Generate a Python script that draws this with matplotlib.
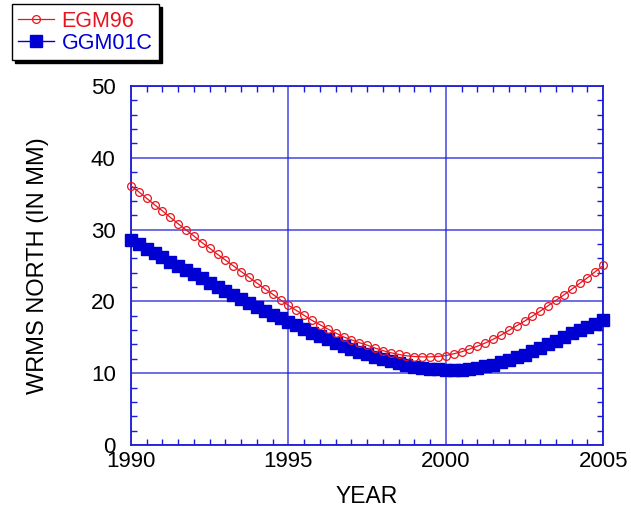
import numpy as np
import matplotlib
matplotlib.use("Agg")
import matplotlib.pyplot as plt
from matplotlib.ticker import MultipleLocator

plt.rcParams['font.family'] = ['Liberation Sans', 'DejaVu Sans']

# quarterly samples, 1990 -> 2005
years = np.arange(1990.0, 2005.01, 0.25)

egm96 = [36.1, 35.25, 34.35, 33.45, 32.6, 31.7, 30.8, 29.95,
         29.1, 28.2, 27.4, 26.55, 25.75, 24.95, 24.15, 23.35,
         22.55, 21.75, 21.0, 20.2, 19.45, 18.75, 18.05, 17.35,
         16.75, 16.15, 15.6, 15.05, 14.65, 14.25, 13.9, 13.5,
         13.15, 12.85, 12.62, 12.42, 12.32, 12.27, 12.27, 12.32,
         12.45, 12.7, 12.98, 13.35, 13.75, 14.2, 14.72, 15.3,
         15.95, 16.6, 17.25, 17.95, 18.65, 19.4, 20.15, 20.9,
         21.7, 22.5, 23.3, 24.15, 25.0]

ggm01c = [28.55, 27.95, 27.35, 26.75, 26.15, 25.55, 24.95, 24.35,
          23.8, 23.2, 22.6, 22.05, 21.5, 20.9, 20.35, 19.8,
          19.25, 18.7, 18.15, 17.65, 17.15, 16.65, 16.15, 15.65,
          15.15, 14.7, 14.25, 13.8, 13.4, 13.0, 12.65, 12.3,
          11.95, 11.65, 11.38, 11.12, 10.92, 10.75, 10.62, 10.52,
          10.47, 10.45, 10.48, 10.58, 10.75, 10.95, 11.2, 11.5,
          11.85, 12.2, 12.6, 13.05, 13.5, 14.0, 14.5, 15.0,
          15.55, 16.0, 16.45, 16.9, 17.35]

x_ticks = [1990, 1995, 2000, 2005]
y_ticks = [0, 10, 20, 30, 40, 50]

axis_blue = '#1c1cd8'
red = '#e8141e'
blue = '#0000d2'

fig = plt.figure(figsize=(6.31, 5.11), dpi=100)
ax = fig.add_axes([0.2076, 0.1292, 0.7484, 0.7025])

ax.plot(years, egm96, color=red, lw=0.9, marker='o', markersize=5.6,
        markerfacecolor='none', markeredgecolor=red, markeredgewidth=0.9,
        label='EGM96', clip_on=False, zorder=4)
ax.plot(years, ggm01c, color=blue, lw=1.0, marker='s', markersize=8.2,
        markerfacecolor=blue, markeredgecolor=blue,
        label='GGM01C', clip_on=False, zorder=3)

ax.set_xlim(1990, 2005)
ax.set_ylim(0, 50)
ax.set_xticks(x_ticks)
ax.set_yticks(y_ticks)
ax.xaxis.set_minor_locator(MultipleLocator(0.5))
ax.yaxis.set_minor_locator(MultipleLocator(2))

ax.grid(True, which='major', color=axis_blue, lw=1.2, alpha=0.75)
for s in ax.spines.values():
    s.set_color(axis_blue)
    s.set_linewidth(1.3)

ax.tick_params(which='both', direction='in', top=True, right=True,
               color=axis_blue, labelsize=16, labelcolor='black')
ax.tick_params(which='major', length=0, width=1.2)
ax.tick_params(which='minor', length=4, width=1.0)
ax.tick_params(axis='x', which='major', pad=4)
ax.tick_params(axis='y', which='major', pad=11)

ax.set_xlabel('YEAR', fontsize=16.5, labelpad=10)
ax.set_ylabel('WRMS NORTH (IN MM)', fontsize=17, labelpad=30)

leg = fig.legend(loc='upper left', bbox_to_anchor=(0.019, 0.992),
                 fontsize=15.5, frameon=True, fancybox=False,
                 shadow={'color': 'black', 'alpha': 1.0},
                 labelcolor='linecolor', handlelength=1.65,
                 handletextpad=0.35, borderpad=0.3, labelspacing=0.05,
                 borderaxespad=0)
leg.get_frame().set_edgecolor('black')
leg.get_frame().set_linewidth(1.0)

fig.savefig('out.png', dpi=100)
